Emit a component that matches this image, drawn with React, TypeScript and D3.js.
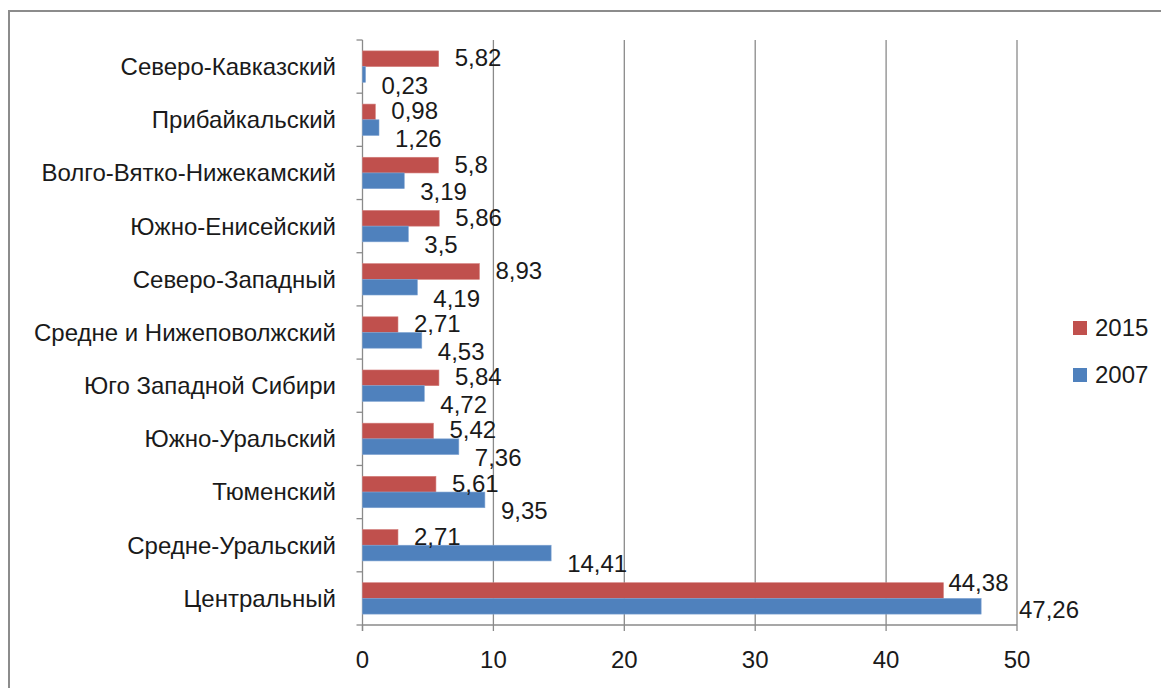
import * as d3 from "d3";
import React from "react";

// regions, bottom to top as in the chart
const regions = [
  "Центральный",
  "Средне-Уральский",
  "Тюменский",
  "Южно-Уральский",
  "Юго Западной Сибири",
  "Средне и Нижеповолжский",
  "Северо-Западный",
  "Южно-Енисейский",
  "Волго-Вятко-Нижекамский",
  "Прибайкальский",
  "Северо-Кавказский",
];
const values2015 = [44.38, 2.71, 5.61, 5.42, 5.84, 2.71, 8.93, 5.86, 5.8, 0.98, 5.82];
const values2007 = [47.26, 14.41, 9.35, 7.36, 4.72, 4.53, 4.19, 3.5, 3.19, 1.26, 0.23];
const xTicks = [0, 10, 20, 30, 40, 50];
const seriesNames = ["2015", "2007"];

const colors: Record<string, string> = { "2015": "#C0504D", "2007": "#4F81BD" };
const font = "'Liberation Sans', Arial, sans-serif";
const fs = 24;

const App: React.FC = () => {
  const W = 1161,
    H = 688;
  const plot = { left: 362.5, right: 1017, top: 40, bottom: 625 };

  const x = d3.scaleLinear().domain([0, 50]).range([plot.left, plot.right]);
  const y0 = d3
    .scaleBand()
    .domain([...regions].reverse())
    .range([plot.top, plot.bottom])
    .paddingInner(0.41)
    .paddingOuter(0.205);
  const y1 = d3.scaleBand().domain(seriesNames).range([0, y0.bandwidth()]);
  const edges = d3.range(regions.length + 1).map((i) => plot.top + (i * (plot.bottom - plot.top)) / regions.length);
  const fmt = (v: number) => String(v).replace(".", ",");

  const seriesValues: Record<string, number[]> = { "2015": values2015, "2007": values2007 };

  return (
    <svg width={W} height={H} style={{ position: "absolute", left: 0, top: 0, background: "#fff" }}>
      {/* outer frame (only top and left visible) */}
      <path d={`M9,${H + 5}V11H${W + 5}`} fill="none" stroke="#8c8c8c" strokeWidth={2} />

      {/* gridlines */}
      {xTicks.slice(1).map((t) => (
        <line key={t} x1={x(t)} x2={x(t)} y1={plot.top} y2={plot.bottom} stroke="#8a8a8a" strokeWidth={1.3} />
      ))}
      {/* axes */}
      <line x1={plot.left} x2={plot.left} y1={plot.top} y2={plot.bottom + 6} stroke="#8a8a8a" strokeWidth={1.3} />
      <line x1={plot.left} x2={plot.right} y1={plot.bottom} y2={plot.bottom} stroke="#8a8a8a" strokeWidth={1.3} />
      {edges.map((e, i) => (
        <line key={i} x1={plot.left - 6} x2={plot.left} y1={e} y2={e} stroke="#8a8a8a" strokeWidth={1.3} />
      ))}
      {xTicks.map((t) => (
        <g key={t}>
          <line x1={x(t)} x2={x(t)} y1={plot.bottom} y2={plot.bottom + 6} stroke="#8a8a8a" strokeWidth={1.3} />
          <text x={x(t)} y={668} textAnchor="middle" fontFamily={font} fontSize={fs} fill="#1a1a1a">
            {t}
          </text>
        </g>
      ))}

      {/* category labels */}
      {regions.map((r) => (
        <text
          key={r}
          x={336}
          y={(y0(r) ?? 0) + y0.bandwidth() / 2}
          dy="0.35em"
          textAnchor="end"
          fontFamily={font}
          fontSize={fs}
          fill="#1a1a1a"
        >
          {r}
        </text>
      ))}

      {/* bars */}
      {regions.map((r, i) => (
        <g key={r} transform={`translate(0,${y0(r)})`}>
          {seriesNames.map((s) => {
            const v = seriesValues[s][i];
            return (
              <rect
                key={s}
                x={x(0)}
                y={y1(s)}
                width={x(v) - x(0)}
                height={y1.bandwidth()}
                fill={colors[s]}
                stroke={s === "2015" ? "#d27c7a" : "#7ea3d2"}
                strokeWidth={0.6}
              />
            );
          })}
        </g>
      ))}

      {/* value labels */}
      {regions.map((r, i) => (
        <g key={r} transform={`translate(0,${y0(r)})`}>
          {seriesNames.map((s) => {
            const v = seriesValues[s][i];
            let lx = x(v) + 16;
            let off = s === "2007" ? 11 : -1;
            if (lx + 66 > plot.right + 4 && s === "2015") {
              lx = x(v) + 5;
              off = -8;
            }
            if (s === "2007" && v > 45) {
              lx = plot.right + 2;
              off = 3;
            }
            const cy = (y1(s) ?? 0) + y1.bandwidth() / 2 + off;
            return (
              <text key={s} x={lx} y={cy} dy="0.35em" fontFamily={font} fontSize={fs} fill="#1a1a1a">
                {fmt(v)}
              </text>
            );
          })}
        </g>
      ))}

      {/* legend */}
      {seriesNames.map((s, i) => (
        <g key={s} transform={`translate(1073,${321 + i * 47})`}>
          <rect width={14} height={14} fill={colors[s]} />
          <text x={22} y={7} dy="0.35em" fontFamily={font} fontSize={fs} fill="#1a1a1a">
            {s}
          </text>
        </g>
      ))}
    </svg>
  );
};

export default App;
